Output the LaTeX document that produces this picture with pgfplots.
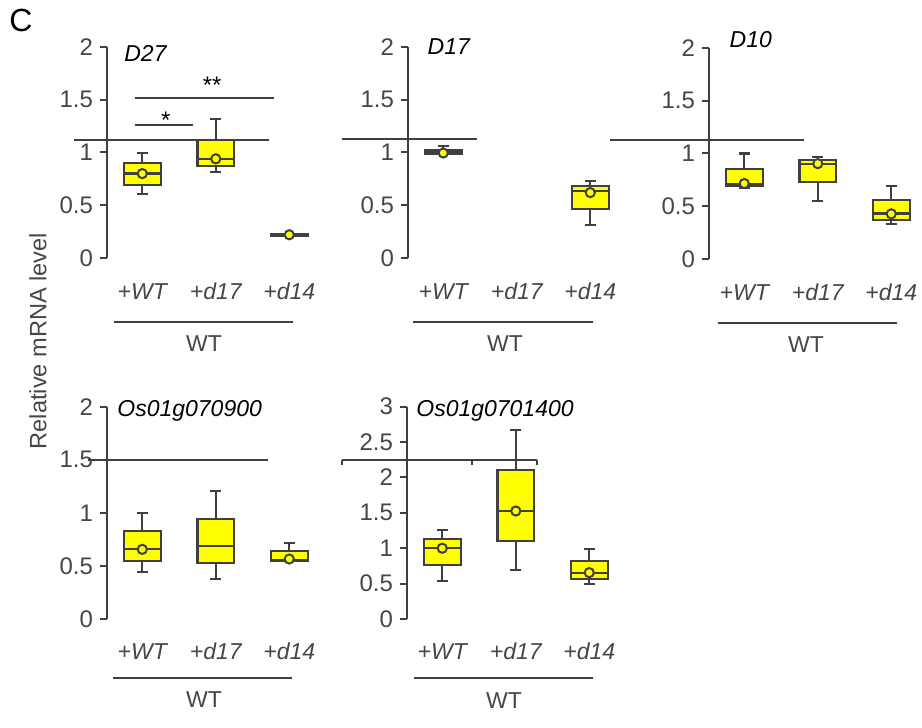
\documentclass[border=0pt]{standalone}
\usepackage{pgfplots}
\pgfplotsset{compat=1.18}
\usepgfplotslibrary{statistics}
\usepackage{fontspec}
\setmainfont{Liberation Sans}
\definecolor{edge}{RGB}{64,64,64}
\definecolor{labgray}{RGB}{70,70,70}
\definecolor{boxyellow}{RGB}{255,255,0}
\pgfplotsset{
  panel/.style={scale only axis, width=110.25pt, xmin=0.52, xmax=3.52, ymin=0,
    axis y line=left, axis x line=none, xtick=\empty,
    y axis line style={-, draw=edge, line width=1pt},
    ytick style={draw=edge, line width=1pt},
    tick align=outside, major tick length=3.5pt,
    yticklabel style={text=labgray, font=\fontsize{12}{14}\selectfont},
    /pgf/number format/assume math mode=true,
    clip=false, anchor=south west},
  bx/.style={boxplot prepared={#1, box extend=0.5, whisker extend=0.15},
    boxplot/draw direction=y,
    draw=edge, fill=boxyellow, solid, line width=1.1pt},
  mn/.style={only marks, mark=*, mark size=2.3pt,
    mark options={fill=boxyellow, draw=edge, line width=1pt}},
}
\tikzset{
  catl/.style={text=labgray, font=\fontsize{11.5}{13}\selectfont\itshape, anchor=base},
  wtl/.style={text=labgray, font=\fontsize{11.5}{13}\selectfont, anchor=base},
  ttl/.style={font=\fontsize{11.5}{13}\selectfont\itshape, anchor=base west, inner sep=0pt},
}
\begin{document}
\begin{tikzpicture}
\useasboundingbox (0,0) rectangle (461pt,364pt);
\node[font=\fontsize{16}{18}\selectfont] at (10.5pt,354pt) {C};
\node[rotate=90, text=labgray, font=\fontsize{11.8}{14}\selectfont] at (19pt,193.5pt) {Relative mRNA level};

% Panel 1: D27
\begin{axis}[panel, at={(53.5pt,235pt)}, height=105.5pt, ymax=2, ytick={0,0.5,1,1.5,2}]
\addplot[bx={draw position=1, lower whisker=0.607, lower quartile=0.695, median=0.80, upper quartile=0.90, upper whisker=0.995}] coordinates {};
\addplot[bx={draw position=2, lower whisker=0.815, lower quartile=0.875, median=0.938, upper quartile=1.12, upper whisker=1.317}] coordinates {};
\addplot[bx={draw position=3, lower whisker=0.214, lower quartile=0.214, median=0.22, upper quartile=0.226, upper whisker=0.226}] coordinates {};
\addplot[mn] coordinates {(1,0.80) (2,0.94) (3,0.22)};
\draw[edge, line width=1pt] (axis cs:0.07,1.12) -- (axis cs:2.72,1.12);
\draw[edge, line width=1pt] (axis cs:0.90,1.257) -- (axis cs:1.69,1.257);
\draw[edge, line width=1pt] (axis cs:0.90,1.517) -- (axis cs:2.79,1.517);
\node[anchor=base, font=\fontsize{12}{14}\selectfont] at (axis cs:1.32,1.23) {*};
\node[anchor=base, font=\fontsize{12}{14}\selectfont] at (axis cs:1.95,1.56) {**};
\node[ttl] at (axis cs:0.751,1.867) {D27};
\node[catl] at (axis cs:1,-0.389) {+WT};
\node[catl] at (axis cs:2,-0.389) {+d17};
\node[catl] at (axis cs:3,-0.389) {+d14};
\draw[edge, line width=1pt] (axis cs:0.615,-0.607) -- (axis cs:3.05,-0.607);
\node[wtl] at (axis cs:1.84,-0.888) {WT};
\end{axis}

% Panel 2: D17
\begin{axis}[panel, at={(204pt,235pt)}, height=105.5pt, ymax=2, ytick={0,0.5,1,1.5,2}]
\addplot[bx={draw position=1, lower whisker=0.99, lower quartile=0.99, median=1.01, upper quartile=1.027, upper whisker=1.058}] coordinates {};
\addplot[bx={draw position=3, lower whisker=0.316, lower quartile=0.464, median=0.632, upper quartile=0.68, upper whisker=0.727}] coordinates {};
\addplot[mn] coordinates {(1,0.995) (3,0.62)};
\draw[edge, line width=1pt] (axis cs:-0.378,1.128) -- (axis cs:1.459,1.128);
\node[ttl] at (axis cs:0.783,1.93) {D17};
\node[catl] at (axis cs:1,-0.389) {+WT};
\node[catl] at (axis cs:2,-0.389) {+d17};
\node[catl] at (axis cs:3,-0.389) {+d14};
\draw[edge, line width=1pt] (axis cs:0.588,-0.607) -- (axis cs:3.037,-0.607);
\node[wtl] at (axis cs:1.84,-0.888) {WT};
\end{axis}

% Panel 3: D10
\begin{axis}[panel, at={(354.5pt,234.5pt)}, height=105.5pt, ymax=2, ytick={0,0.5,1,1.5,2}]
\addplot[bx={draw position=1, lower whisker=0.677, lower quartile=0.696, median=0.71, upper quartile=0.85, upper whisker=1.0}] coordinates {};
\addplot[bx={draw position=2, lower whisker=0.548, lower quartile=0.728, median=0.904, upper quartile=0.935, upper whisker=0.967}] coordinates {};
\addplot[bx={draw position=3, lower whisker=0.331, lower quartile=0.372, median=0.431, upper quartile=0.557, upper whisker=0.693}] coordinates {};
\addplot[mn] coordinates {(1,0.715) (2,0.904) (3,0.428)};
\draw[edge, line width=1pt] (axis cs:-0.827,1.131) -- (axis cs:1.812,1.131);
\node[ttl] at (axis cs:0.796,2.003) {D10};
\node[catl] at (axis cs:1,-0.389) {+WT};
\node[catl] at (axis cs:2,-0.389) {+d17};
\node[catl] at (axis cs:3,-0.389) {+d14};
\draw[edge, line width=1pt] (axis cs:0.642,-0.607) -- (axis cs:3.08,-0.607);
\node[wtl] at (axis cs:1.84,-0.888) {WT};
\end{axis}

% Panel 4: Os01g070900
\begin{axis}[panel, at={(53.5pt,54.5pt)}, height=106.15pt, ymax=2, ytick={0,0.5,1,1.5,2}]
\addplot[bx={draw position=1, lower whisker=0.44, lower quartile=0.543, median=0.656, upper quartile=0.832, upper whisker=1.0}] coordinates {};
\addplot[bx={draw position=2, lower whisker=0.377, lower quartile=0.527, median=0.684, upper quartile=0.939, upper whisker=1.203}] coordinates {};
\addplot[bx={draw position=3, lower whisker=0.55, lower quartile=0.55, median=0.556, upper quartile=0.644, upper whisker=0.716}] coordinates {};
\addplot[mn] coordinates {(1,0.656) (3,0.565)};
\draw[edge, line width=1pt] (axis cs:0.261,1.5) -- (axis cs:2.71,1.5);
\node[ttl] at (axis cs:0.656,1.912) {Os01g070900};
\node[catl] at (axis cs:1,-0.386) {+WT};
\node[catl] at (axis cs:2,-0.386) {+d17};
\node[catl] at (axis cs:3,-0.386) {+d14};
\draw[edge, line width=1pt] (axis cs:0.6,-0.556) -- (axis cs:3.04,-0.556);
\node[wtl] at (axis cs:1.84,-0.838) {WT};
\end{axis}

% Panel 5: Os01g0701400
\begin{axis}[panel, at={(203.5pt,54.5pt)}, height=106.15pt, ymax=3, ytick={0,0.5,1,1.5,2,2.5,3}]
\addplot[bx={draw position=1, lower whisker=0.532, lower quartile=0.768, median=1.003, upper quartile=1.135, upper whisker=1.262}] coordinates {};
\addplot[bx={draw position=2, lower whisker=0.692, lower quartile=1.102, median=1.526, upper quartile=2.105, upper whisker=2.67}] coordinates {};
\addplot[bx={draw position=3, lower whisker=0.495, lower quartile=0.565, median=0.655, upper quartile=0.82, upper whisker=0.99}] coordinates {};
\addplot[mn] coordinates {(1,1.0) (2,1.526) (3,0.655)};
\draw[edge, line width=1pt] (axis cs:-0.364,2.247) -- (axis cs:2.289,2.247);
\draw[edge, line width=1pt] (axis cs:-0.364,2.247) -- (axis cs:-0.364,2.177);
\draw[edge, line width=1pt] (axis cs:1.404,2.247) -- (axis cs:1.404,2.177);
\draw[edge, line width=1pt] (axis cs:2.289,2.247) -- (axis cs:2.289,2.177);
\node[ttl] at (axis cs:0.642,2.868) {Os01g0701400};
\node[catl] at (axis cs:1,-0.579) {+WT};
\node[catl] at (axis cs:2,-0.579) {+d17};
\node[catl] at (axis cs:3,-0.579) {+d14};
\draw[edge, line width=1pt] (axis cs:0.619,-0.834) -- (axis cs:3.05,-0.834);
\node[wtl] at (axis cs:1.84,-1.258) {WT};
\end{axis}
\end{tikzpicture}
\end{document}
